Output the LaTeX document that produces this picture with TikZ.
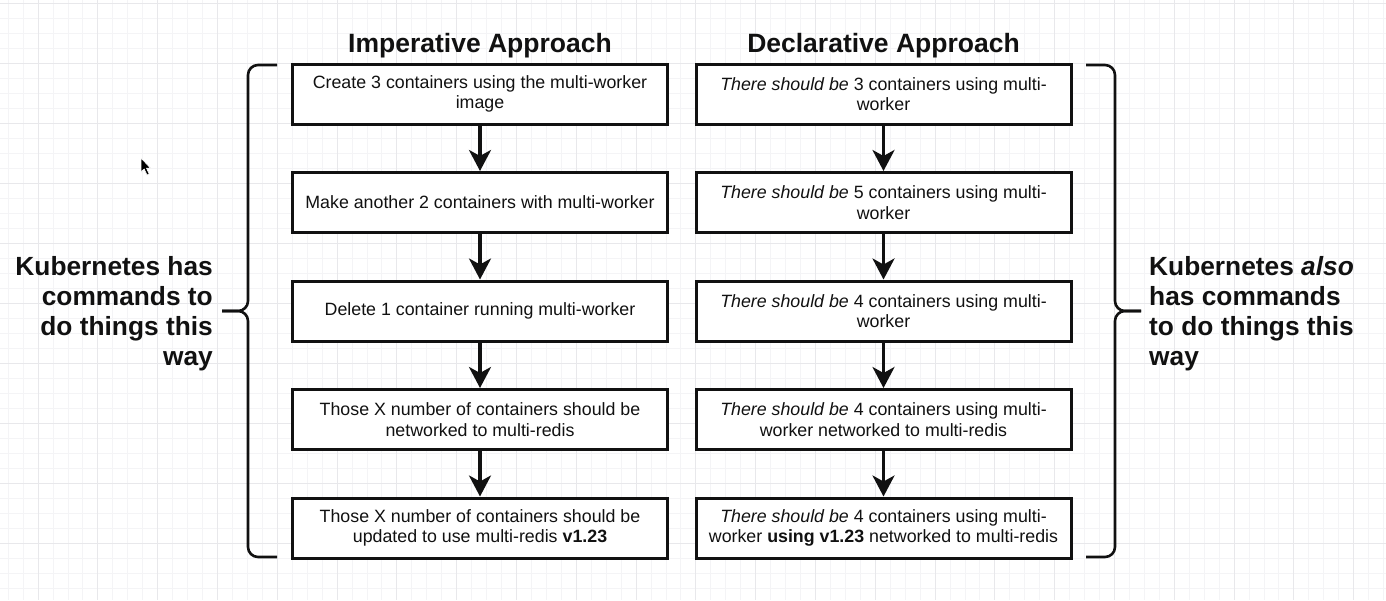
\documentclass[tikz,border=0pt]{standalone}
\usepackage{fontspec}
\setmainfont{Liberation Sans}
\usetikzlibrary{arrows.meta}
\definecolor{gridminor}{HTML}{F4F4F6}
\definecolor{gridmajor}{HTML}{E8E8EB}
\definecolor{ink}{HTML}{111111}
\begin{document}
\begin{tikzpicture}[x=1pt,y=-1pt,
  box/.style={draw=ink, line width=3pt, fill=white, minimum width=375pt, minimum height=60pt,
    inner sep=0pt, align=center, font=\fontsize{17.8}{20.4}\selectfont, text=ink},
  flow/.style={draw=ink, line width=3.2pt, -{Stealth[length=21pt,width=22pt,inset=6pt]}},
  bracestyle/.style={draw=ink, line width=2.6pt, rounded corners=10pt},
  titlestyle/.style={font=\bfseries\fontsize{26.5}{30}\selectfont, text=ink, inner sep=0pt},
  sidestyle/.style={font=\bfseries\fontsize{26.3}{30}\selectfont, text=ink, inner sep=0pt},
  minorline/.style={draw=gridminor, line width=0.8pt},
  majorline/.style={draw=gridmajor, line width=1pt}
]
\useasboundingbox (0,0) rectangle (1386,600);
\fill[white] (0,0) rectangle (1386,600);
% grid
\foreach \k in {0,...,93} \draw[minorline] ({-6.85+\k*14.95},0) -- ++(0,600);
\foreach \k in {0,...,40} \draw[minorline] (0,{3+\k*15}) -- ++(1386,0);
\foreach \k in {-1,...,22} \draw[majorline] ({38+\k*59.8},0) -- ++(0,600);
\foreach \k in {0,...,9} \draw[majorline] (0,{3+\k*60}) -- ++(1386,0);

% cursor
\filldraw[fill=black, draw=white, line width=0.6pt] (141,158) -- (141,172) -- (144.2,169) -- (147,175) -- (149.2,174) -- (146.5,168.2) -- (150.5,168.2) -- cycle;

% titles
\node[titlestyle, anchor=base] (t1) at (480,52) {Imperative Approach};
\node[titlestyle, anchor=base] (t2) at (883.5,52) {Declarative Approach};

% left column
\node[box] (i1) at (480,94) {Create 3 containers using the multi-worker\\image};
\node[box] (i2) at (480,202.5) {Make another 2 containers with multi-worker};
\node[box] (i3) at (480,311) {Delete 1 container running multi-worker};
\node[box] (i4) at (480,419.5) {Those X number of containers should be\\networked to multi-redis};
\node[box] (i5) at (480,528) {Those X number of containers should be\\updated to use multi-redis \textbf{v1.23}};

% right column
\node[box] (d1) at (883.5,94) {\textit{There should be} 3 containers using multi-\\worker};
\node[box] (d2) at (883.5,202.5) {\textit{There should be} 5 containers using multi-\\worker};
\node[box] (d3) at (883.5,311) {\textit{There should be} 4 containers using multi-\\worker};
\node[box] (d4) at (883.5,419.5) {\textit{There should be} 4 containers using multi-\\worker networked to multi-redis};
\node[box] (d5) at (883.5,528) {\textit{There should be} 4 containers using multi-\\worker \textbf{using v1.23} networked to multi-redis};

% arrows
\foreach \a/\b in {i1/i2,i2/i3,i3/i4,i4/i5,d1/d2,d2/d3,d3/d4,d4/d5}
  \draw[flow] (\a.south) -- (\b.north);

% braces
\coordinate (lt) at (277,65);
\coordinate (lb) at (277,557);
\coordinate (ltip) at (222,311);
\draw[bracestyle] (lt) -- (248,65) -- (248,311) -- (ltip);
\draw[bracestyle] (ltip) -- (248,311) -- (248,557) -- (lb);
\coordinate (rt) at (1086,65);
\coordinate (rb) at (1086,557);
\coordinate (rtip) at (1141,311);
\draw[bracestyle] (rt) -- (1115,65) -- (1115,311) -- (rtip);
\draw[bracestyle] (rtip) -- (1115,311) -- (1115,557) -- (rb);

% side texts
\node[sidestyle, align=right, anchor=north east] (ls) at (213,256) {Kubernetes has\\commands to\\do things this\\way};
\node[sidestyle, align=left, anchor=north west] (rs) at (1149,256) {Kubernetes \textit{also}\\has commands\\to do things this\\way};
\end{tikzpicture}
\end{document}
